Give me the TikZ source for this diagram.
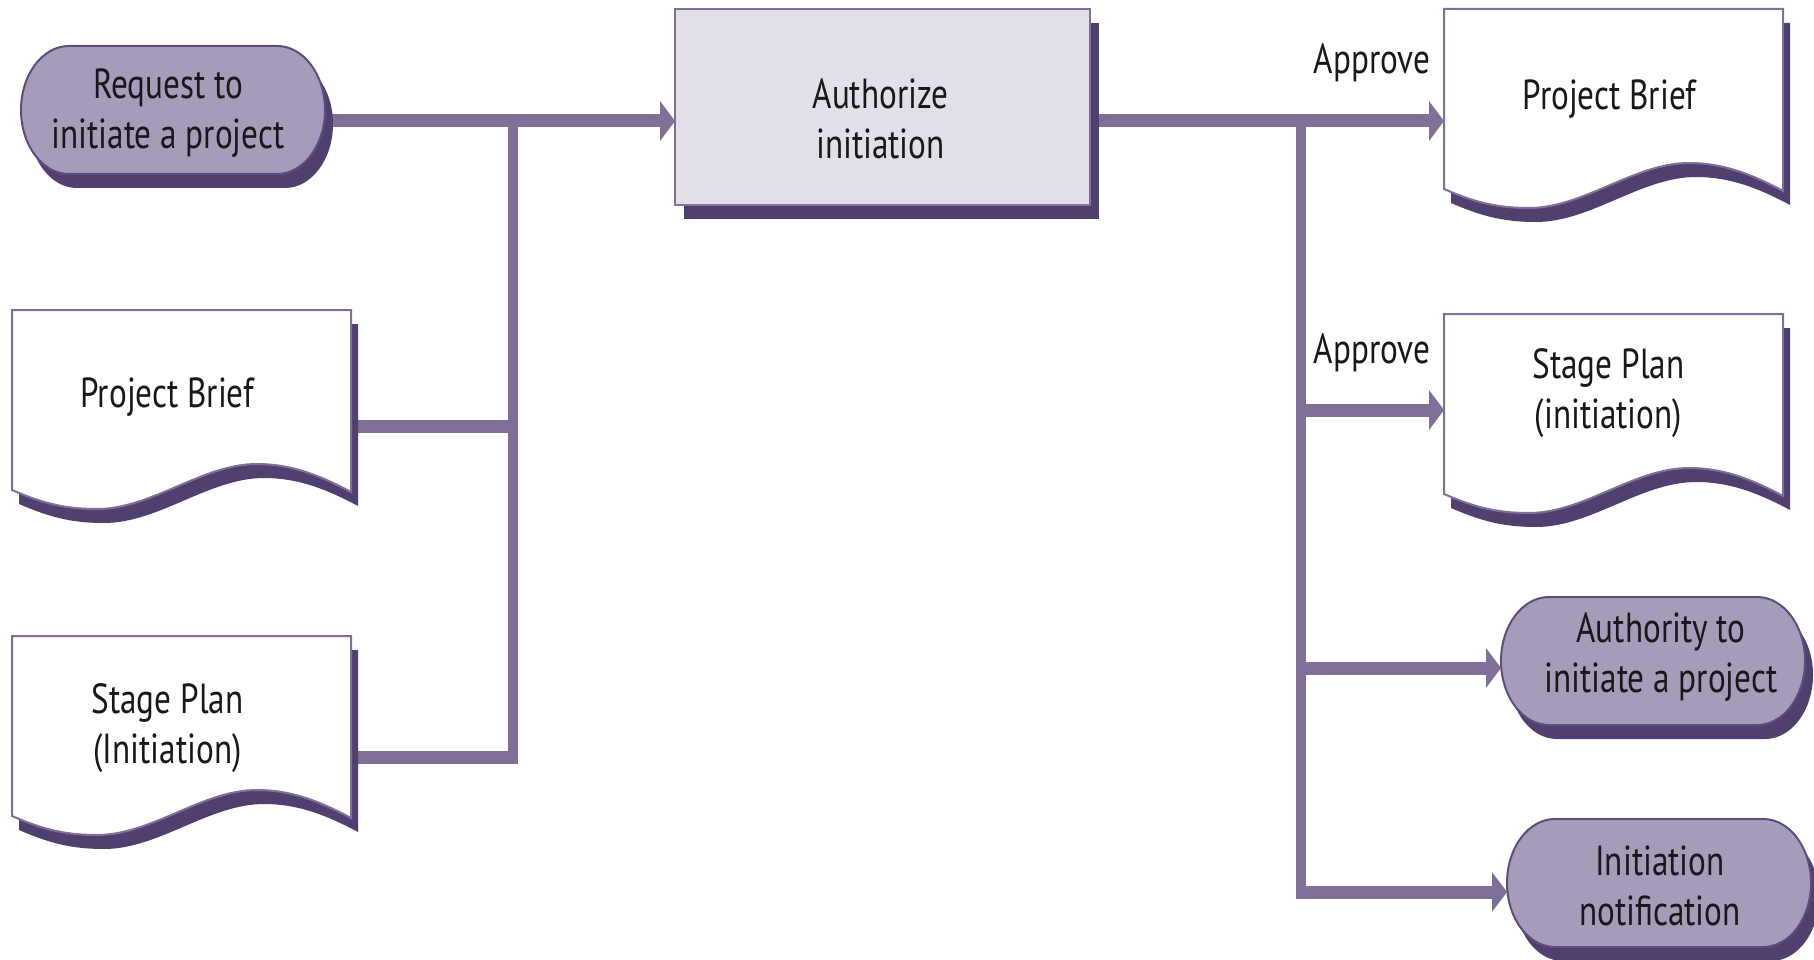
\documentclass[tikz,border=0pt]{standalone}
\usepackage{fontspec}
\setmainfont{PT Sans}[FakeStretch=0.79]
\usetikzlibrary{arrows.meta,calc}

\definecolor{connC}{RGB}{128,112,152}
\definecolor{shadeC}{RGB}{80,64,112}
\definecolor{pillC}{RGB}{166,156,186}
\definecolor{pillEdge}{RGB}{92,77,128}
\definecolor{boxC}{RGB}{227,223,233}
\definecolor{inkC}{RGB}{25,23,25}

\pgfdeclarelayer{lines}
\pgfdeclarelayer{shapes}
\pgfsetlayers{lines,shapes,main}

% rounded terminal with elliptic ends, 304 x 128
\newcommand\pillpath[2]{($(#1.north west)+(48,0)+(#2)$) -- ++(208,0)
  arc[start angle=90,end angle=-90,x radius=48pt,y radius=64pt] -- ++(-208,0)
  arc[start angle=270,end angle=90,x radius=48pt,y radius=64pt] -- cycle}
% document sheet with a wavy lower edge, 339 wide
\newcommand\docpath[2]{($(#1.north west)+(#2)$) -- ++(339,0) -- ++(0,182)
  .. controls +(-30,-16) and +(35,0) .. ++(-94,-28)
  .. controls +(-55,0) and +(55,0) .. ++(-160,45)
  .. controls +(-35,0) and +(28,12) .. ++(-85,-19) -- cycle}

\tikzset{
  frame/.style={inner sep=0pt, outer sep=0pt, draw=none},
  pillnode/.style={frame, minimum width=304pt, minimum height=128pt},
  docnode/.style={frame, minimum width=339pt, minimum height=180pt},
  txt/.style={font=\fontsize{42pt}{50pt}\selectfont, align=center, text=inkC, inner sep=0pt},
  hline/.style={draw=connC, line width=13pt},
  vline/.style={draw=connC, line width=10pt},
  flow/.style={hline, -{Triangle[length=15pt,width=40pt,line width=0pt]}},
  shadowfill/.style={fill=shadeC},
  pillbody/.style={fill=pillC, draw=pillEdge, line width=2pt},
  docbody/.style={fill=white, draw=connC, line width=2pt},
  boxbody/.style={fill=boxC, draw=connC, line width=2.5pt},
}

\begin{document}
\begin{tikzpicture}[x=1pt, y=-1pt]
\useasboundingbox (0,0) rectangle (1814,960);

% ---- nodes ----
\node[pillnode, label={[txt,xshift=-5pt,yshift=-3pt]center:{Request to\\initiate a project}}] (req) at (173,110) {};
\node[frame, minimum width=415pt, minimum height=196pt,
      label={[txt,xshift=-2pt,yshift=-12pt]center:{Authorize\\initiation}}] (auth) at (882.5,107) {};
\node[docnode, label={[txt,xshift=-14pt,yshift=3pt]center:{Project Brief}}] (pb1) at (181.5,400) {};
\node[docnode, label={[txt,xshift=-14pt,yshift=-2pt]center:{Stage Plan\\(Initiation)}}] (sp1) at (181.5,726) {};
\node[docnode, label={[txt,xshift=-4pt,yshift=0pt]center:{Project Brief}}] (pb2) at (1613.5,99) {};
\node[docnode, label={[txt,xshift=-5pt,yshift=11pt]center:{Stage Plan\\(initiation)}}] (sp2) at (1613.5,404) {};
\node[pillnode, label={[txt,xshift=8pt,yshift=4pt]center:{Authority to\\initiate a project}}] (apill) at (1653,661) {};
\node[pillnode, label={[txt,xshift=1pt,yshift=-3pt]center:{Initiation\\notification}}] (ipill) at (1659,883) {};
\node[txt] (ok1) at (1372,63) {Approve};
\node[txt] (ok2) at (1372,353) {Approve};

% ---- shapes ----
\begin{pgfonlayer}{shapes}
  \foreach \p in {req,apill,ipill}{
    \fill[shadowfill] \pillpath{\p}{8,14};
    \filldraw[pillbody] \pillpath{\p}{0,0};
  }
  \fill[shadowfill] ($(auth.north west)+(9,14)$) rectangle ($(auth.south east)+(9,14)$);
  \filldraw[boxbody] (auth.north west) rectangle (auth.south east);
  \foreach \d in {pb1,sp1,pb2,sp2}{
    \fill[shadowfill] \docpath{\d}{7,14};
    \filldraw[docbody] \docpath{\d}{0,0};
  }
\end{pgfonlayer}

% ---- connectors ----
\begin{pgfonlayer}{lines}
  \fill[white] (0,0) rectangle (1814,960);
  \coordinate (jl) at (513,121);
  \coordinate (bl) at (513,757);
  \coordinate (jr) at (1301,121);
  \coordinate (br) at (1301,892);
  % inputs gathered on the left
  \draw[vline] (jl) -- ($(bl)+(0,6.5)$);
  \draw[hline] (pb1.east |- 0,426) -- (jl |- 0,426);
  \draw[hline] (sp1.east |- bl) -- ($(bl)+(5,0)$);
  \draw[flow] (req.east |- jl) -- (auth.west |- jl);
  % outputs fanned out on the right
  \draw[vline] (jr) -- ($(br)+(0,6.5)$);
  \draw[flow] (auth.east |- jr) -- (pb2.west |- jr);
  \draw[flow] (jr |- 0,410) -- (sp2.west |- 0,410);
  \draw[flow] (jr |- 0,668) -- (apill.west |- 0,668);
  \draw[flow] ($(br)+(-5,0)$) -- (ipill.west |- br);
\end{pgfonlayer}
\end{tikzpicture}
\end{document}
